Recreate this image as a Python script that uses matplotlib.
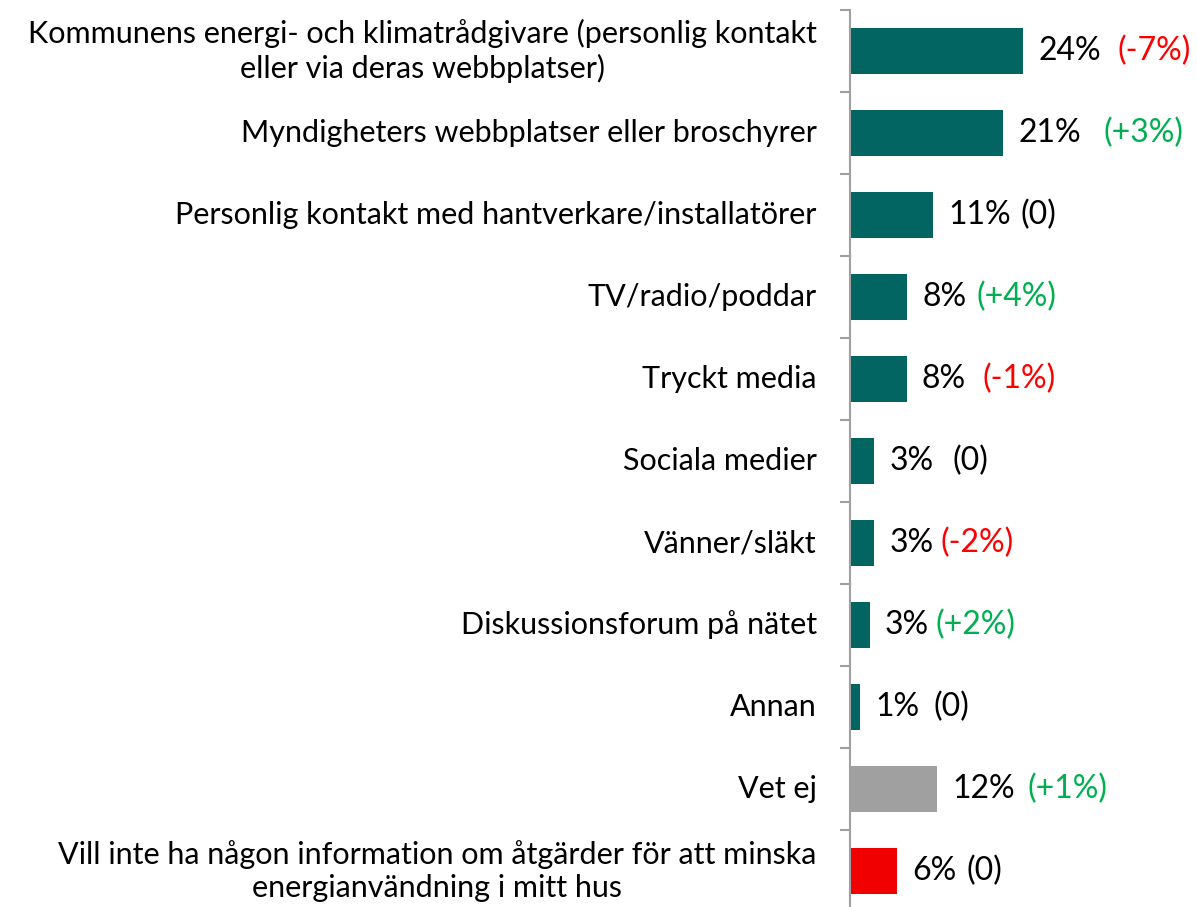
import matplotlib.pyplot as plt

categories = [
    'Kommunens energi- och klimatrådgivare (personlig kontakt\neller via deras webbplatser)',
    'Myndigheters webbplatser eller broschyrer',
    'Personlig kontakt med hantverkare/installatörer',
    'TV/radio/poddar',
    'Tryckt media',
    'Sociala medier',
    'Vänner/släkt',
    'Diskussionsforum på nätet',
    'Annan',
    'Vet ej',
    'Vill inte ha någon information om åtgärder för att minska\nenergianvändning i mitt hus',
]
values = [23.9, 21.1, 11.4, 7.9, 7.8, 3.3, 3.3, 2.7, 1.4, 12.0, 6.5]
value_labels = ['24%', '21%', '11%', '8%', '8%', '3%', '3%', '3%', '1%', '12%', '6%']
changes = ['(-7%)', '(+3%)', '(0)', '(+4%)', '(-1%)', '(0)', '(-2%)', '(+2%)', '(0)', '(+1%)', '(0)']

teal = '#036561'
bar_colors = [teal] * 9 + ['#A0A0A0', '#F00000']
# gap (points) between the value label and the change label
gaps = [12, 16, 7, 7, 12, 14, 5, 5, 10, 9, 7]


def change_color(c):
    if c.startswith('(-'):
        return '#FF0000'
    if c.startswith('(+'):
        return '#00B050'
    return 'black'


plt.rcParams['font.family'] = ['Lato', 'DejaVu Sans']

fig = plt.figure(figsize=(11.97, 9.07), dpi=100)
ax = fig.add_axes([850 / 1197, -5 / 907, 347 / 1197, 902 / 907])

y = list(range(len(categories)))
ax.barh(y, values, height=0.55, color=bar_colors)
ax.set_xlim(0, 347 / 7.25)
ax.set_ylim(len(categories) - 0.5, -0.5)

for i, v in enumerate(values):
    t = ax.annotate(value_labels[i], xy=(v, i), xytext=(11, 0), textcoords='offset points',
                    ha='left', va='center', fontsize=23)
    ax.annotate(changes[i], xy=(1, 0.5), xycoords=t, xytext=(gaps[i], 0),
                textcoords='offset points', ha='left', va='center', fontsize=23,
                color=change_color(changes[i]))

ax.set_yticks(y)
ax.set_yticklabels(categories, fontsize=22)
for lab in ax.get_yticklabels():
    lab.set_multialignment('center')
    lab.set_linespacing(1.25)
    lab.set_va('center')
ax.tick_params(axis='y', which='major', length=0, pad=24)
ax.set_yticks([i + 0.5 for i in range(-1, len(categories))], minor=True)
ax.tick_params(axis='y', which='minor', length=7, width=1.5, color='#A0A0A0')
ax.set_xticks([])

for s in ['top', 'right', 'bottom']:
    ax.spines[s].set_visible(False)
ax.spines['left'].set_color('#A0A0A0')
ax.spines['left'].set_linewidth(1.5)

fig.savefig('out.png', dpi=100)
